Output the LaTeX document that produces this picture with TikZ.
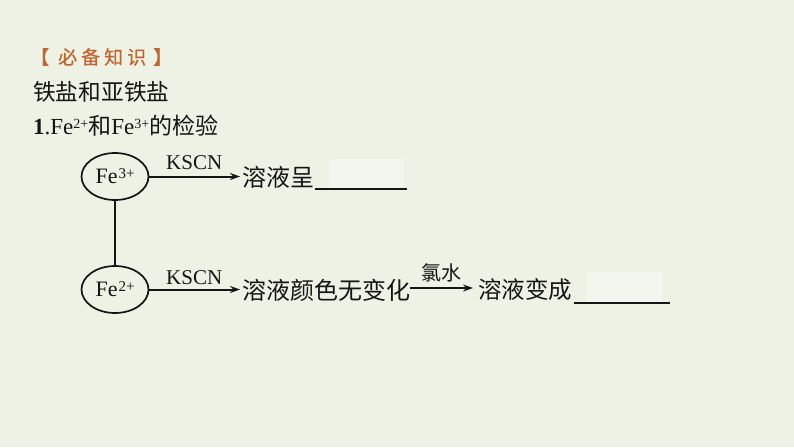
\documentclass[tikz,border=0pt]{standalone}
\usepackage{fontspec}
\setmainfont{Liberation Serif}
\newfontfamily\cjk{Noto Sans CJK SC}
\newfontfamily\cjkh[FakeBold=0.5]{Noto Sans CJK SC}
\usetikzlibrary{arrows.meta,shapes.geometric}
\definecolor{bgc}{HTML}{EDF2E4}
\definecolor{headc}{HTML}{C4632C}
\definecolor{inkc}{HTML}{151515}
\definecolor{blankc}{HTML}{F2F6EE}
\tikzset{
 txt/.style={anchor=west,inner sep=0pt,text=inkc,font=\fontsize{23}{23}\selectfont},
 big/.style={txt,font=\fontsize{24}{24}\selectfont\cjk},
 lab/.style={anchor=center,inner sep=0pt,text=inkc},
 latlab/.style={lab,yshift=14pt,xshift=-1.5pt,font=\fontsize{21}{21}\selectfont},
 ion/.style={draw=inkc,line width=1.7pt,ellipse,minimum width=67pt,minimum height=47pt,inner sep=0pt,text=inkc,font=\fontsize{22}{22}\selectfont},
 arr/.style={draw=inkc,line width=2pt,-{Stealth[length=10pt,width=7pt]}},
 rul/.style={draw=inkc,line width=2pt},
 blank/.style={fill=blankc,draw=none,inner sep=0pt,anchor=north west}
}
\newcommand{\sups}[1]{\raisebox{6.5pt}{\fontsize{14}{14}\selectfont #1}}
\newcommand{\ionsup}[1]{\hspace{1pt}\raisebox{5pt}{\fontsize{15}{15}\selectfont #1}}
\begin{document}
\begin{tikzpicture}[x=1pt,y=-1pt]
\useasboundingbox[fill=bgc] (0,0) rectangle (794,447);
\node[txt,text=headc,font=\fontsize{19}{19}\selectfont\cjkh] (h) at (30,57) {【\hspace{9pt}必\hspace{4pt}备\hspace{4pt}知\hspace{4pt}识\hspace{7pt}】};
\node[txt,font=\fontsize{22.7}{23}\selectfont\cjk] (t) at (33,92) {铁盐和亚铁盐};
\node[txt] (o) at (33,126) {\textbf{1}.Fe\sups{2+}{\cjk 和}Fe\sups{3+}{\cjk 的检验}};
\node[ion] (f3) at (115,176.5) {Fe\ionsup{3+}};
\node[ion] (f2) at (115,289.5) {Fe\ionsup{2+}};
\draw[draw=inkc,line width=1.7pt] (f3) -- (f2);
\node[big] (a) at (242,177) {溶液呈};
\node[blank,minimum width=75pt,minimum height=29pt] (b1) at (329,159) {};
\coordinate (u1a) at (315,189); \coordinate (u1b) at (407,189);
\draw[rul] (u1a) -- (u1b);
\draw[arr,shorten >=2pt] (f3.east) -- (a.west |- f3.east) node[midway,latlab] {KSCN};
\node[big] (c) at (242,290) {溶液颜色无变化};
\draw[arr,shorten >=2pt] (f2.east) -- (c.west |- f2.east) node[midway,latlab,yshift=-2pt] {KSCN};
\node[txt,font=\fontsize{23.5}{24}\selectfont\cjk] (d) at (478,290) {溶液变成};
\draw[arr,shorten >=5pt] ([yshift=2pt]c.east) -- ([yshift=2pt]d.west) node[midway,lab,yshift=15pt,xshift=-3pt,font=\fontsize{20}{20}\selectfont\cjk] {氯水};
\node[blank,minimum width=75pt,minimum height=30pt] (b2) at (587,272) {};
\coordinate (u2a) at (574,303); \coordinate (u2b) at (670,303);
\draw[rul] (u2a) -- (u2b);
\end{tikzpicture}
\end{document}
